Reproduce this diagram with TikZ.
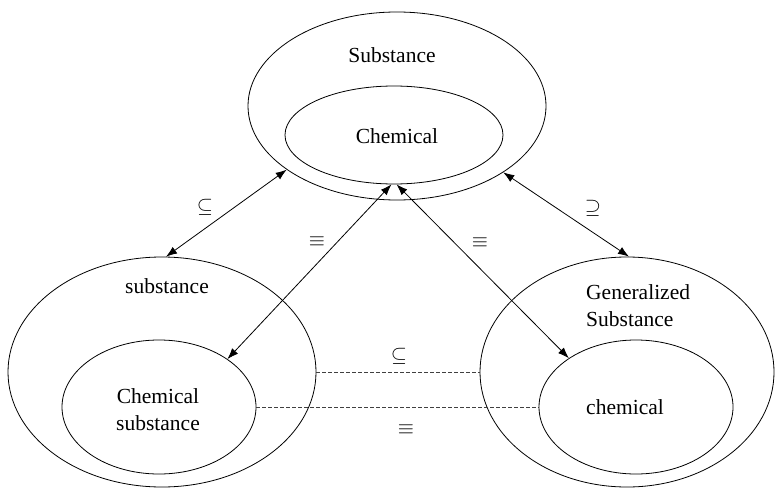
\documentclass[tikz,border=0pt]{standalone}
\usepackage{fontspec}
\setmainfont{Liberation Serif}
\usetikzlibrary{shapes.geometric,arrows.meta}
\begin{document}
\begin{tikzpicture}[x=1pt,y=-1pt,
  ell/.style={draw,ellipse,inner sep=0pt,line width=0.8pt},
  lbl/.style={font=\fontsize{21.5}{27}\selectfont,inner sep=0pt,align=center},
  rel/.style={font=\fontsize{20}{24}\selectfont,inner sep=0pt},
  dbl/.style={line width=0.8pt,{Latex[length=11pt,width=8pt]}-{Latex[length=11pt,width=8pt]}},
  dsh/.style={line width=0.8pt,dash pattern=on 4pt off 2pt,draw=black!75}]
\useasboundingbox (0,0) rectangle (775,489);
% ellipses
\node[ell,minimum width=298pt,minimum height=188pt] (topout) at (397,106) {};
\node[ell,minimum width=218pt,minimum height=98pt] (topin) at (394,135) {};
\node[ell,minimum width=308pt,minimum height=230pt] (leftout) at (162,372) {};
\node[ell,minimum width=194pt,minimum height=134pt] (leftin) at (159,407) {};
\node[ell,minimum width=294pt,minimum height=230pt] (rightout) at (627,372) {};
\node[ell,minimum width=194pt,minimum height=134pt] (rightin) at (636,407) {};
% texts
\node[lbl] (t1) at (392,55) {Substance};
\node[lbl] (t2) at (397,136) {Chemical};
\node[lbl] (t3) at (167,286) {substance};
\node[lbl] (t4) at (158,410) {Chemical\\substance};
\node[lbl,align=left,anchor=west] (t5) at (586,306) {Generalized\\Substance};
\node[lbl,anchor=west] (t6) at (586,407) {chemical};
% connectors
\draw[dbl] (topout.210.9) -- (leftout.88);
\draw[dbl] (topin.267) -- (leftin.35);
\draw[dbl] (topin.273) -- (rightin.144.6);
\draw[dbl] (topout.328.6) -- (rightout.89);
\draw[dsh] (leftout.east) -- (rightout.west);
\draw[dsh] (leftin.east) -- (rightin.west);
% relation labels
\node[rel] (r1) at (205,207) {$\subseteq$};
\node[rel] (r2) at (317,242) {$\equiv$};
\node[rel] (r3) at (480,243) {$\equiv$};
\node[rel] (r4) at (593,208) {$\supseteq$};
\node[rel] (r5) at (399,356) {$\subseteq$};
\node[rel] (r6) at (406,430) {$\equiv$};
\end{tikzpicture}
\end{document}
